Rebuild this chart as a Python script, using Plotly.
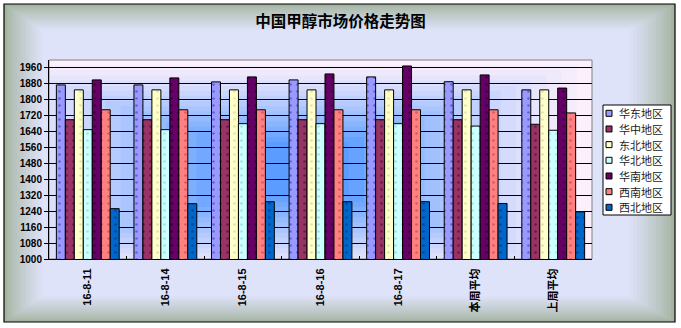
import plotly.graph_objects as go

categories = ["16-8-11", "16-8-14", "16-8-15", "16-8-16", "16-8-17", "本周平均", "上周平均"]
series_names = ["华东地区", "华中地区", "东北地区", "华北地区", "华南地区", "西南地区", "西北地区"]
huadong = [1875, 1875, 1890, 1900, 1915, 1891, 1850]
huazhong = [1700, 1700, 1700, 1700, 1700, 1700, 1677]
dongbei = [1850, 1850, 1850, 1850, 1850, 1850, 1850]
huabei = [1650, 1650, 1680, 1680, 1680, 1668, 1647]
huanan = [1900, 1910, 1915, 1930, 1970, 1925, 1859]
xinan = [1750, 1750, 1750, 1750, 1750, 1750, 1734]
xibei = [1253, 1278, 1288, 1288, 1288, 1279, 1237]
y_ticks = list(range(1000, 1961, 80))

series_values = [huadong, huazhong, dongbei, huabei, huanan, xinan, xibei]
colors = ["#9999ff", "#993366", "#ffffcc", "#ccffff", "#660066", "#ff8080", "#0066cc"]
dot_colors = ["#5555cc", "#55183a", "#dddd99", "#99dddd", "#330033", "#cc5555", "#003f88"]

W, H = 681, 328
L, R, T, B = 49, 89, 60, 69
pw, ph = W - L - R, H - T - B


def px_to_paper_x(px):
    return (px - L) / pw


def px_to_paper_y(py):
    return (H - B - py) / ph


def lerp(c1, c2, t):
    a = [int(c1[i:i + 2], 16) for i in (1, 3, 5)]
    b = [int(c2[i:i + 2], 16) for i in (1, 3, 5)]
    return "#" + "".join(f"{round(a[k] + (b[k] - a[k]) * t):02x}" for k in range(3))


shapes = []
annotations = []
# outer chart area gradient (rectangular from center)
x0, x1, y0, y1 = 4, 675, 4, 322
edge, center = "#a3b39f", "#dfe3fa"
n = 12
for i in range(n + 1):
    t = i / n
    ix = t * 38
    iy = t * 26
    shapes.append(dict(type="rect", xref="paper", yref="paper", layer="below",
                       x0=px_to_paper_x(x0 + ix), x1=px_to_paper_x(x1 - ix * 1.2),
                       y0=px_to_paper_y(y1 - iy), y1=px_to_paper_y(y0 + iy),
                       fillcolor=lerp(edge, center, t ** 0.8), line=dict(width=0)))
shapes.append(dict(type="rect", xref="paper", yref="paper", layer="below",
                   x0=px_to_paper_x(x0), x1=px_to_paper_x(x1),
                   y0=px_to_paper_y(y1), y1=px_to_paper_y(y0),
                   line=dict(color="black", width=1.2), fillcolor="rgba(0,0,0,0)"))
# plot area gradient
pedge, pcenter = "#fcf0fc", "#5a9cff"
cx, cy = 0.44, 0.45
m = 16
for i in range(m + 1):
    t = i / m
    hx = (1 - t * 0.8) * 0.56
    hy = (1 - t * 0.75) * 0.55
    shapes.append(dict(type="rect", xref="paper", yref="paper", layer="below",
                       x0=max(0, cx - hx), x1=min(1, cx + hx), y0=max(0, cy - hy), y1=min(1, cy + hy),
                       fillcolor=lerp(pedge, pcenter, t ** 1.2), line=dict(width=0)))
shapes.append(dict(type="rect", xref="paper", yref="paper", layer="below",
                   x0=0, x1=1, y0=0, y1=1, line=dict(color="#808080", width=1),
                   fillcolor="rgba(0,0,0,0)"))

# legend box (drawn manually to match compact spacing)
shapes.append(dict(type="rect", xref="paper", yref="paper", layer="above",
                   x0=px_to_paper_x(603), x1=px_to_paper_x(671),
                   y0=px_to_paper_y(215), y1=px_to_paper_y(105),
                   fillcolor="white", line=dict(color="black", width=1)))
for k, (name, col) in enumerate(zip(series_names, colors)):
    yc = 113.3 + k * 15.67
    shapes.append(dict(type="rect", xref="paper", yref="paper", layer="above",
                       x0=px_to_paper_x(606), x1=px_to_paper_x(612),
                       y0=px_to_paper_y(yc + 3), y1=px_to_paper_y(yc - 3),
                       fillcolor=col, line=dict(color="black", width=1)))
    annotations.append(dict(xref="paper", yref="paper", x=px_to_paper_x(617), y=px_to_paper_y(yc),
                            xanchor="left", yanchor="middle", text=name, showarrow=False,
                            font=dict(family="Noto Sans CJK SC", size=11, color="#222222")))

fig = go.Figure()
for name, vals, col, dc in zip(series_names, series_values, colors, dot_colors):
    fig.add_trace(go.Bar(
        x=categories, y=vals, name=name,
        marker=dict(color=col, line=dict(color="black", width=1),
                    pattern=dict(shape=".", size=7, solidity=0.12, fgcolor=dc, fgopacity=0.8)),
    ))

fig.update_layout(
    width=W, height=H,
    margin=dict(l=L, r=R, t=T, b=B, pad=0),
    paper_bgcolor="white",
    plot_bgcolor="rgba(0,0,0,0)",
    barmode="group", bargap=0.19, bargroupgap=0,
    shapes=shapes,
    annotations=annotations,
    title=dict(text="<b>中国甲醇市场价格走势图</b>", x=0.5, xref="container", xanchor="center",
               y=1 - 22 / H, yref="container", yanchor="middle",
               font=dict(family="Noto Sans CJK SC", size=15.5, color="black")),
    showlegend=False,
)
fig.update_xaxes(type="category", showline=True, linecolor="black", linewidth=1,
                 ticks="inside", tickson="boundaries", ticklen=3, tickcolor="black",
                 tickangle=-90, showgrid=False, ticklabelstandoff=4,
                 tickfont=dict(family="Liberation Sans, Noto Sans CJK SC", size=11, color="black",
                               weight="bold"))
fig.update_yaxes(range=[1000, 2000], tickvals=y_ticks, showline=True, linecolor="black",
                 linewidth=1, ticks="outside", ticklen=4, tickcolor="black",
                 showgrid=True, gridcolor="black", gridwidth=1, zeroline=False,
                 tickfont=dict(family="Liberation Sans", size=10, color="black", weight="bold"))

fig.write_html("out.html")
